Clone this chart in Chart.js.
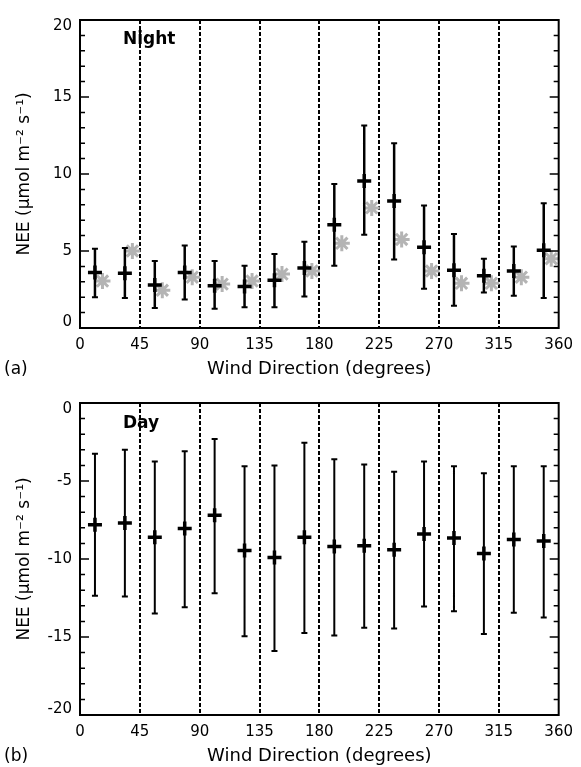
<!DOCTYPE html>
<html>
<head>
<meta charset="utf-8">
<title>NEE vs wind direction</title>
<script src="https://cdn.jsdelivr.net/npm/chart.js@4.4.1/dist/chart.umd.min.js"></script>
<style>
    body { margin: 0; background: #fff; }
    .panel { position: absolute; left: 0; }
</style>
</head>
<body>
<div class="panel" style="top:0"><canvas id="nightChart" width="581" height="383"></canvas></div>
<div class="panel" style="top:383px"><canvas id="dayChart" width="581" height="384"></canvas></div>
<script>
// bin centres (degrees)
const directions = [11.25, 33.75, 56.25, 78.75, 101.25, 123.75, 146.25, 168.75,
                    191.25, 213.75, 236.25, 258.75, 281.25, 303.75, 326.25, 348.75];
const dirTicks = [0, 45, 90, 135, 180, 225, 270, 315, 360];

// (a) night
const nightMean  = [3.6, 3.55, 2.8, 3.6, 2.75, 2.7, 3.1, 3.9, 6.7, 9.55, 8.25, 5.25, 3.75, 3.4, 3.7, 5.05];
const nightUpper = [5.15, 5.2, 4.35, 5.35, 4.35, 4.05, 4.8, 5.6, 9.35, 13.15, 12.0, 7.95, 6.1, 4.5, 5.3, 8.1];
const nightLower = [2.0, 1.95, 1.3, 1.85, 1.25, 1.35, 1.35, 2.05, 4.05, 6.05, 4.45, 2.55, 1.45, 2.3, 2.1, 1.95];
const nightGrayDir = [16.9, 39.4, 61.9, 84.4, 106.9, 129.4, 151.9, 174.4,
                      196.9, 219.4, 241.9, 264.4, 286.9, 309.4, 331.9, 354.4];
const nightGray  = [3.05, 5.0, 2.45, 3.3, 2.85, 3.05, 3.5, 3.7, 5.5, 7.8, 5.75, 3.7, 2.9, 2.9, 3.3, 4.5];
const nightTicks = [0, 5, 10, 15, 20];

// (b) day
const dayMean  = [-7.8, -7.7, -8.6, -8.05, -7.2, -9.45, -9.9, -8.6, -9.2, -9.15, -9.4, -8.4, -8.65, -9.65, -8.75, -8.85];
const dayUpper = [-3.25, -3.0, -3.75, -3.1, -2.3, -4.05, -4.0, -2.55, -3.6, -3.95, -4.4, -3.75, -4.05, -4.5, -4.05, -4.05];
const dayLower = [-12.35, -12.4, -13.5, -13.1, -12.2, -14.95, -15.9, -14.75, -14.9, -14.4, -14.45, -13.05, -13.35, -14.8, -13.45, -13.75];
const dayTicks = [-20, -15, -10, -5, 0];

Chart.defaults.font.family = '"DejaVu Sans", sans-serif';
Chart.defaults.color = '#000';

// vertical error bars: low -> high, broken by a null point
function errorBars(dirs, lower, upper) {
    const pts = [];
    dirs.forEach(function(d, i) {
        pts.push({x: d, y: lower[i]}, {x: d, y: upper[i]}, {x: d, y: null});
    });
    return pts;
}

// box, inward y ticks and panel labels
const framePlugin = {
    id: 'frame',
    afterDraw(chart, args, opts) {
        const ctx = chart.ctx;
        const a = chart.chartArea;
        const y = chart.scales.y;
        ctx.save();
        ctx.strokeStyle = '#000';
        ctx.lineWidth = 2;
        ctx.strokeRect(a.left, a.top, a.right - a.left, a.bottom - a.top);
        ctx.lineWidth = 1.5;
        ctx.beginPath();
        for (let v = y.min; v <= y.max; v++) {
            const py = y.getPixelForValue(v);
            const len = v % 5 === 0 ? 9 : 5;
            ctx.moveTo(a.left, py);
            ctx.lineTo(a.left + len, py);
            ctx.moveTo(a.right, py);
            ctx.lineTo(a.right - len, py);
        }
        ctx.stroke();
        ctx.fillStyle = '#000';
        ctx.textBaseline = 'middle';
        ctx.font = 'bold 17px "DejaVu Sans"';
        ctx.fillText(opts.name, a.left + 43, a.top + opts.nameDy);
        ctx.font = '17px "DejaVu Sans"';
        ctx.fillText(opts.tag, 4, opts.tagY);
        ctx.restore();
    }
};

function baseOptions(yTicks, xAxisHeight, padTop, titlePad, name, nameDy, tag, tagY) {
    const yMin = yTicks[0];
    const yMax = yTicks[yTicks.length - 1];
    return {
        responsive: false,
        animation: false,
        events: [],
        layout: { padding: { top: padTop, right: 14, left: 0, bottom: 0 } },
        plugins: {
            legend: { display: false },
            tooltip: { enabled: false },
            frame: { name: name, nameDy: nameDy, tag: tag, tagY: tagY }
        },
        scales: {
            x: {
                type: 'linear',
                min: 0,
                max: 360,
                afterBuildTicks: function(scale) {
                    scale.ticks = dirTicks.map(function(v) { return {value: v}; });
                },
                afterFit: function(scale) { scale.height = xAxisHeight; },
                ticks: { font: { size: 15 }, padding: 8, maxRotation: 0 },
                grid: {
                    drawTicks: false,
                    lineWidth: 2,
                    color: function(c) {
                        return (c.tick && c.tick.value % 360 === 0) ? 'rgba(0,0,0,0)' : '#000';
                    }
                },
                border: { display: false, dash: [4, 2] },
                title: {
                    display: true,
                    text: 'Wind Direction (degrees)',
                    font: { size: 18 },
                    padding: { top: 0, bottom: titlePad }
                }
            },
            y: {
                min: yMin,
                max: yMax,
                afterBuildTicks: function(scale) {
                    scale.ticks = yTicks.map(function(v) { return {value: v}; });
                },
                afterFit: function(scale) { scale.width = 80; },
                ticks: {
                    font: { size: 15, lineHeight: '12px' },
                    padding: 8,
                    // end labels sit a little inside the box
                    callback: function(v) {
                        if (v === yMax) return ['', String(v)];
                        if (v === yMin) return [String(v), ''];
                        return String(v);
                    }
                },
                grid: { display: false, drawTicks: false },
                border: { display: false },
                title: {
                    display: true,
                    text: 'NEE (μmol m⁻² s⁻¹)',
                    font: { size: 17 },
                    padding: { top: 14, bottom: 0 }
                }
            }
        }
    };
}

document.addEventListener('DOMContentLoaded', function() {
    // (a) night-time NEE
    const nightCtx = document.getElementById('nightChart').getContext('2d');
    const nightChart = new Chart(nightCtx, {
        type: 'scatter',
        data: {
            datasets: [
                {
                    data: nightGrayDir.map(function(d, i) { return {x: d, y: nightGray[i]}; }),
                    pointStyle: 'star',
                    pointRadius: 8,
                    borderColor: '#b4b4b4',
                    pointBorderWidth: 3,
                    order: 3
                },
                {
                    type: 'line',
                    data: errorBars(directions, nightLower, nightUpper),
                    borderColor: '#000',
                    borderWidth: 2.5,
                    spanGaps: false,
                    pointStyle: 'line',
                    pointRadius: 3,
                    pointBorderWidth: 2,
                    pointBorderColor: '#000',
                    order: 2
                },
                {
                    data: directions.map(function(d, i) { return {x: d, y: nightMean[i]}; }),
                    pointStyle: 'cross',
                    pointRadius: 7,
                    borderColor: '#000',
                    pointBorderWidth: 3.5,
                    order: 1
                }
            ]
        },
        options: baseOptions(nightTicks, 55, 15, 3, 'Night', 20, '(a)', 370),
        plugins: [framePlugin]
    });

    // (b) daytime NEE
    const dayCtx = document.getElementById('dayChart').getContext('2d');
    const dayChart = new Chart(dayCtx, {
        type: 'scatter',
        data: {
            datasets: [
                {
                    type: 'line',
                    data: errorBars(directions, dayLower, dayUpper),
                    borderColor: '#000',
                    borderWidth: 2,
                    spanGaps: false,
                    pointStyle: 'line',
                    pointRadius: 3,
                    pointBorderWidth: 2,
                    pointBorderColor: '#000',
                    order: 2
                },
                {
                    data: directions.map(function(d, i) { return {x: d, y: dayMean[i]}; }),
                    pointStyle: 'cross',
                    pointRadius: 7,
                    borderColor: '#000',
                    pointBorderWidth: 3.5,
                    order: 1
                }
            ]
        },
        options: baseOptions(dayTicks, 52, 19, 0, 'Day', 21, '(b)', 374),
        plugins: [framePlugin]
    });
});
</script>
</body>
</html>
